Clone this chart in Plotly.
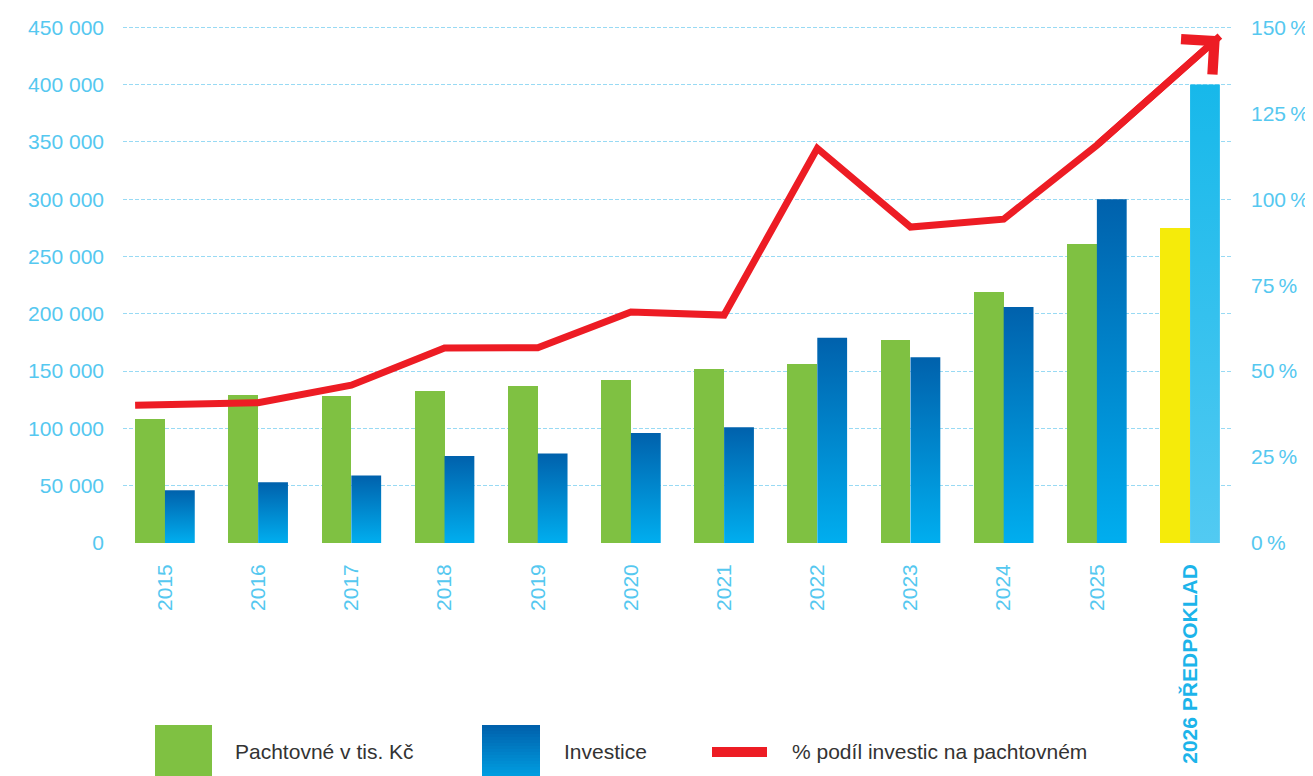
import plotly.graph_objects as go

# data
years = ["2015", "2016", "2017", "2018", "2019", "2020", "2021", "2022", "2023", "2024", "2025", "2026 PŘEDPOKLAD"]
pachtovne = [108000, 129000, 128000, 133000, 137000, 142000, 152000, 156000, 177000, 219000, 261000, 275000]
investice = [46000, 53000, 59000, 76000, 78000, 96000, 101000, 179000, 162000, 206000, 300000, 400000]
podil = [40.1, 40.8, 45.9, 56.7, 56.8, 67.2, 66.3, 114.8, 91.9, 94.2, 115.7, 147.4]
pct_ticks = [0, 25, 50, 75, 100, 125, 150]

legend_labels = ["Pachtovné v tis. Kč", "Investice", "% podíl investic na pachtovném"]

FONT = "Liberation Sans, Arial, sans-serif"
TICK_BLUE = "#55c8f0"
GREEN = "#7fc142"
YELLOW = "#f5eb0a"
RED = "#ed1c24"
BAR_W = 0.32

# axis tops a little above the last gridline so that gridline gets drawn
Y_MAX = 452000
Y2_MAX = 150 * Y_MAX / 450000
PLOT_H = 518.3  # px between 0 and Y_MAX

n = len(years)
pos = list(range(n))

fig = go.Figure()

# green / yellow bars
fig.add_trace(go.Bar(
    x=pos, y=pachtovne, width=BAR_W, offset=-BAR_W,
    marker=dict(color=[GREEN] * (n - 1) + [YELLOW], line=dict(width=0)),
    name=legend_labels[0], showlegend=False,
))

# blue bars with vertical gradient (one filled rectangle per bar)
for i, v in enumerate(investice):
    if i < n - 1:
        scale = [[0, "#00aeef"], [1, "#0061ac"]]
    else:
        scale = [[0, "#52caf2"], [1, "#17b8ea"]]
    fig.add_trace(go.Scatter(
        x=[pos[i], pos[i] + BAR_W, pos[i] + BAR_W, pos[i], pos[i]],
        y=[0, 0, v, v, 0],
        mode="lines", line=dict(width=0), fill="toself",
        fillgradient=dict(type="vertical", colorscale=scale),
        name=legend_labels[1], showlegend=False, hoverinfo="skip",
    ))

# red line: starts at left edge of first group, ends at right edge of last one
line_x = list(pos)
line_x[0] -= BAR_W
line_x[-1] += BAR_W
fig.add_trace(go.Scatter(
    x=line_x, y=podil, yaxis="y2", mode="lines",
    line=dict(color=RED, width=7),
    name=legend_labels[2], showlegend=False,
))
fig.add_annotation(
    x=line_x[-1], y=podil[-1], ax=line_x[-2], ay=podil[-2],
    xref="x", yref="y2", axref="x", ayref="y2",
    showarrow=True, arrowhead=4, arrowsize=1.3, arrowwidth=7, arrowcolor=RED, text="",
)

ticktext = [f"<span style='color:#1cb4ea'><b>{y}</b></span>" if "PŘEDPOKLAD" in y else y for y in years]

# page has an 8px body margin, so margins are shifted by 8px
fig.update_layout(
    width=1313, height=776,
    margin=dict(l=115, r=89, t=17, b=241),
    paper_bgcolor="white", plot_bgcolor="white",
    separators=", ",
    font=dict(family=FONT, size=21, color=TICK_BLUE),
    bargap=0,
    xaxis=dict(
        range=[-0.45, 11.45], tickvals=pos, ticktext=ticktext, tickangle=-90,
        showgrid=False, zeroline=False, showline=False, ticks="", automargin=False,
        ticklabelstandoff=16, tickfont=dict(size=21, color=TICK_BLUE),
    ),
    yaxis=dict(
        range=[0, Y_MAX], dtick=50000, tickformat=",d", automargin=False,
        showgrid=True, gridcolor="#98daf4", griddash="4px,2px", gridwidth=1,
        zeroline=False, showline=False, ticks="", ticklabelstandoff=18,
        tickfont=dict(size=21, color=TICK_BLUE),
    ),
    yaxis2=dict(
        range=[0, Y2_MAX], tickvals=pct_ticks, ticktext=[f"{p}\u2009%" for p in pct_ticks],
        overlaying="y", side="right", automargin=False,
        showgrid=False, zeroline=False, showline=False, ticks="", ticklabelstandoff=18,
        tickfont=dict(size=21, color=TICK_BLUE),
    ),
)

# custom legend below the chart (positions given in reference pixels)
def px_x(p):
    return (p - 123) / 1109


def px_y(p):
    return (543 - p) / PLOT_H


shapes = [dict(type="rect", xref="paper", yref="paper",
               x0=px_x(155), x1=px_x(212), y0=px_y(790), y1=px_y(725),
               fillcolor=GREEN, line=dict(width=0))]
top, bottom = (0x00, 0x61, 0xac), (0x00, 0xae, 0xef)
steps = 22
for k in range(steps):
    t = k / (steps - 1)
    c = tuple(round(top[j] + (bottom[j] - top[j]) * t) for j in range(3))
    y_top = 725 + k * 3
    shapes.append(dict(type="rect", xref="paper", yref="paper",
                       x0=px_x(482), x1=px_x(540), y0=px_y(y_top + 6), y1=px_y(y_top),
                       fillcolor="rgb(%d,%d,%d)" % c, line=dict(width=0)))
shapes.append(dict(type="rect", xref="paper", yref="paper",
                   x0=px_x(712), x1=px_x(767), y0=px_y(757), y1=px_y(747),
                   fillcolor=RED, line=dict(width=0)))
fig.update_layout(shapes=shapes)

for label, lx in zip(legend_labels, [233, 562, 790]):
    fig.add_annotation(x=px_x(lx), y=px_y(752), xref="paper", yref="paper",
                       text=label, showarrow=False, xanchor="left", yanchor="middle",
                       font=dict(family=FONT, size=21, color="#333333"))

fig.write_html("out.html")
